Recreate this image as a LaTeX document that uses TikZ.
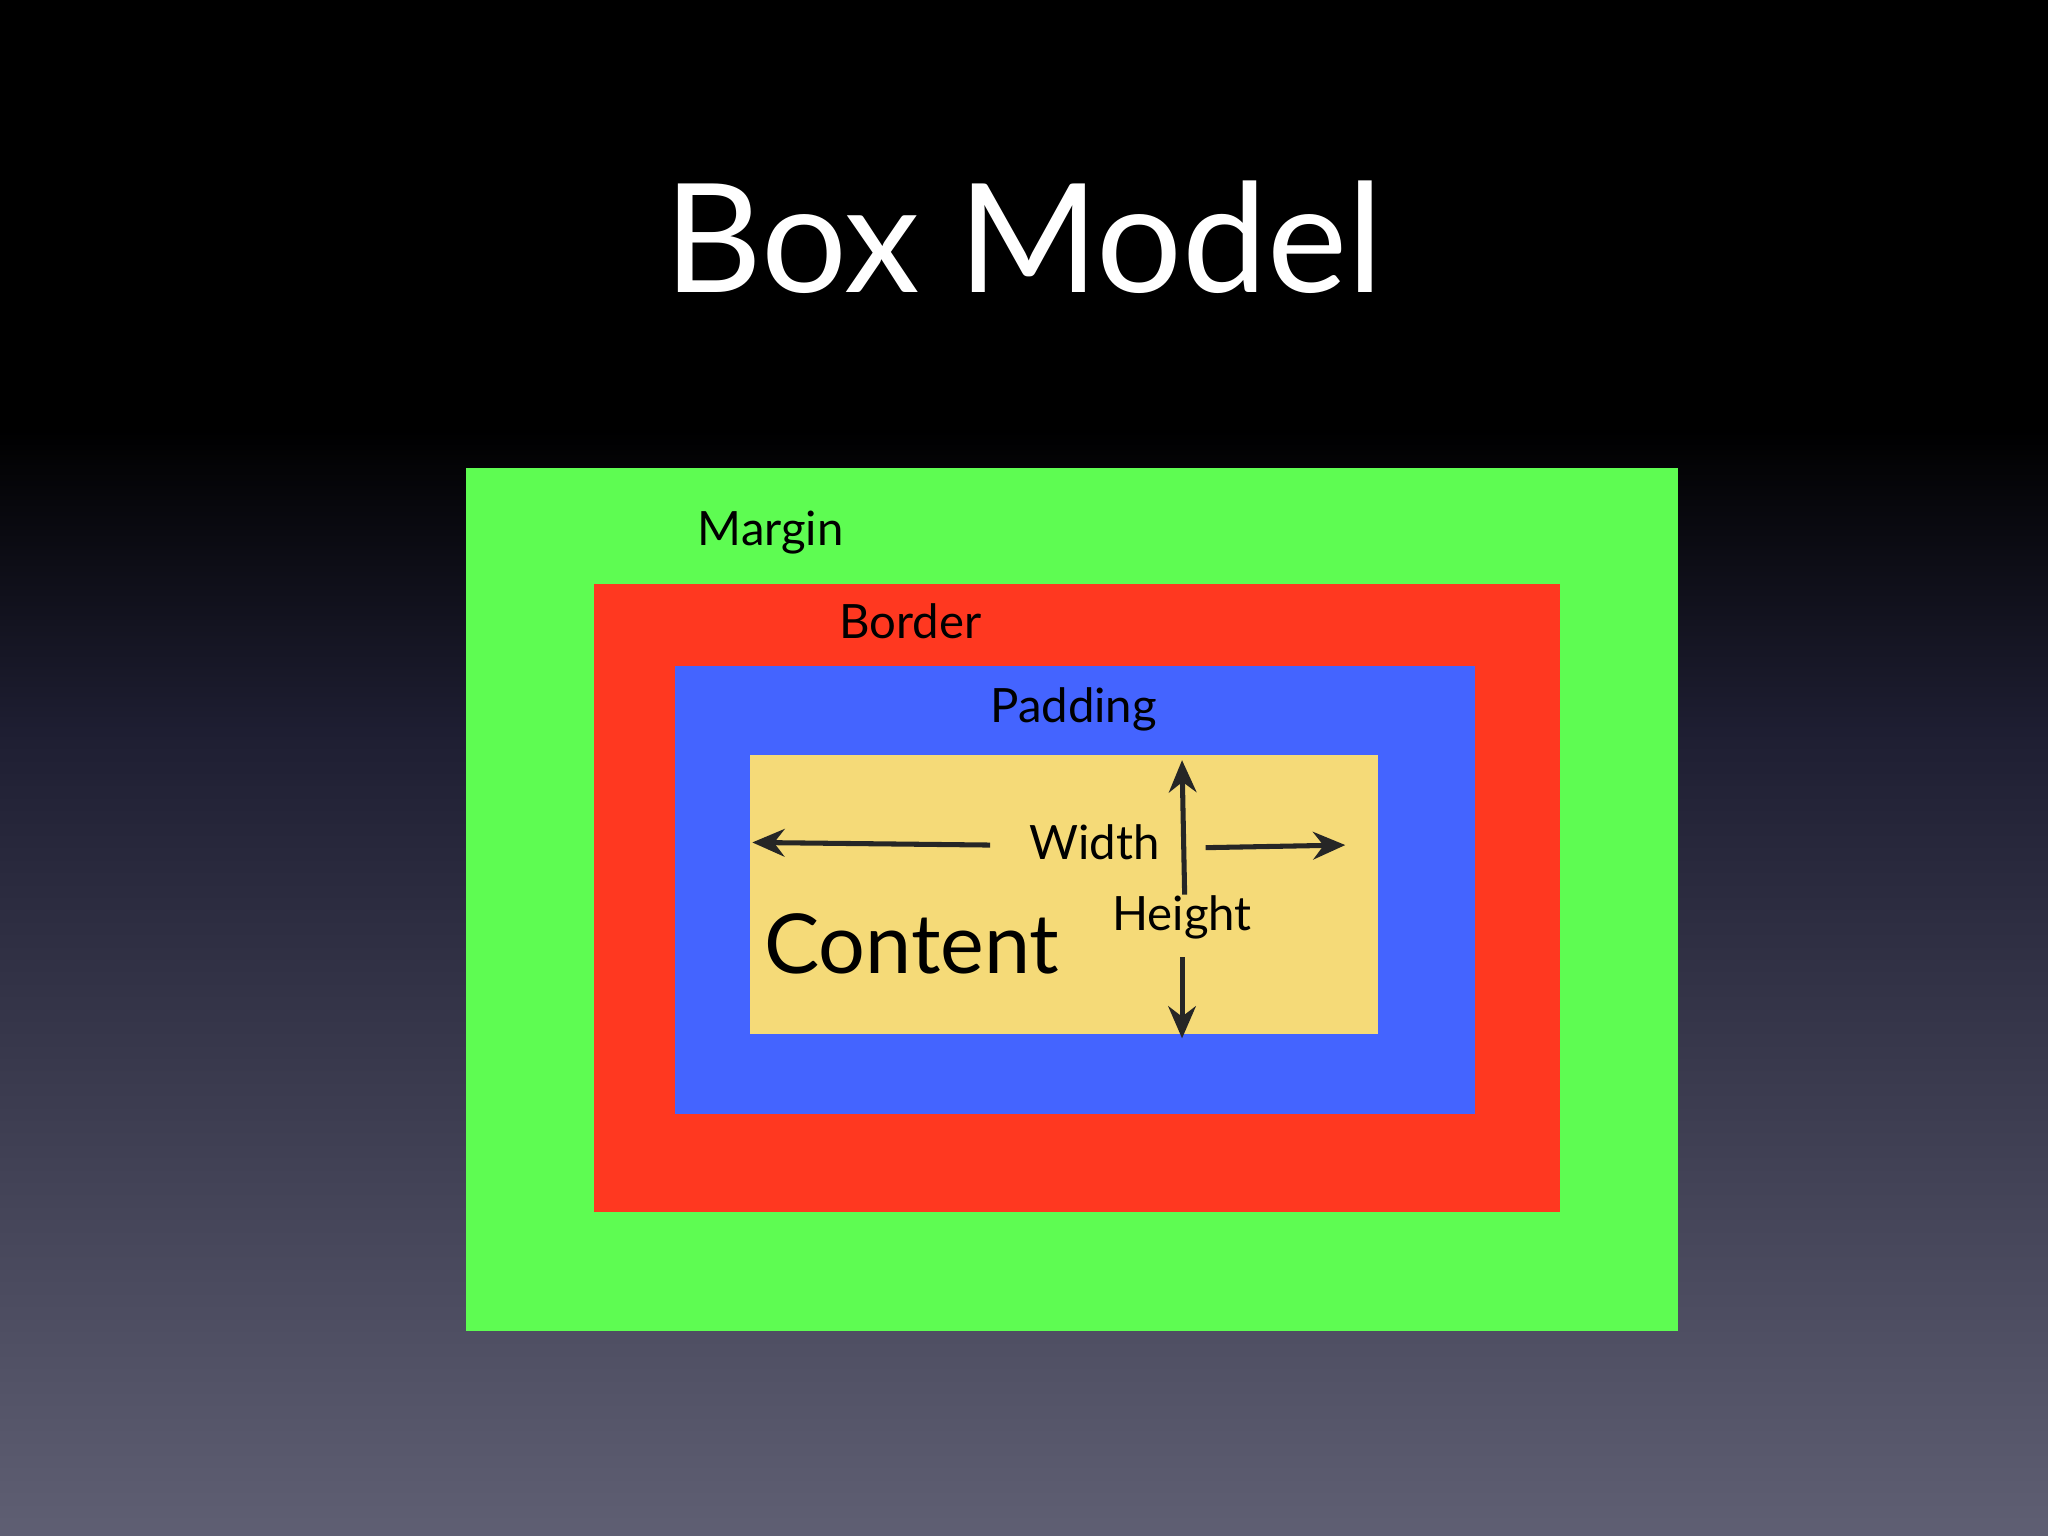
\documentclass[tikz,border=0pt]{standalone}
\usepackage{fontspec}
\setmainfont{Lato}
\usetikzlibrary{arrows.meta}
\definecolor{bgbot}{RGB}{95,95,115}
\definecolor{bgmid}{RGB}{30,30,50}
\definecolor{mgreen}{RGB}{94,252,82}
\definecolor{bred}{RGB}{255,56,32}
\definecolor{pblue}{RGB}{68,100,255}
\definecolor{cyel}{RGB}{245,218,120}
\tikzset{lbl/.style={font=\fontsize{10.3}{12}\selectfont,text=black,inner sep=0pt},
 arr/.style={-{Stealth[length=7pt,width=6pt]},line width=1.1pt,draw=black!85}}
\begin{document}
\begin{tikzpicture}[x=0.01cm,y=-0.01cm]
\useasboundingbox (0,0) rectangle (1568,1176);
\fill[black] (0,0) rectangle (1568,330);
\shade[top color=black,bottom color=bgmid] (0,329) rectangle (1568,560);
\shade[top color=bgmid,bottom color=bgbot] (0,559) rectangle (1568,1176);
\node[text=white,font=\fontsize{33}{38}\selectfont] (title) at (784,182) {Box Model};
\fill[mgreen] (357,358) rectangle (1285,1019);
\fill[bred] (455,447) rectangle (1194,928);
\fill[pblue] (517,510) rectangle (1129,853);
\fill[cyel] (574,578) rectangle (1055,792);
\node[lbl] (margin) at (590,408) {Margin};
\node[lbl] (border) at (697,476) {Border};
\node[lbl] (padding) at (822,543) {Padding};
\node[lbl] (width) at (838,645) {Width};
\node[lbl] (height) at (905,702) {Height};
\node[lbl,font=\fontsize{18}{22}\selectfont] (content) at (698,723) {Content};
\coordinate (wl0) at (758,647); \coordinate (wl1) at (576,645);
\coordinate (wr0) at (923,649); \coordinate (wr1) at (1030,647);
\coordinate (hu0) at (907,685); \coordinate (hu1) at (905,582);
\coordinate (hd0) at (905,733); \coordinate (hd1) at (905,795);
\draw[arr] (wl0) -- (wl1);
\draw[arr] (wr0) -- (wr1);
\draw[arr] (hu0) -- (hu1);
\draw[arr] (hd0) -- (hd1);
\end{tikzpicture}
\end{document}
